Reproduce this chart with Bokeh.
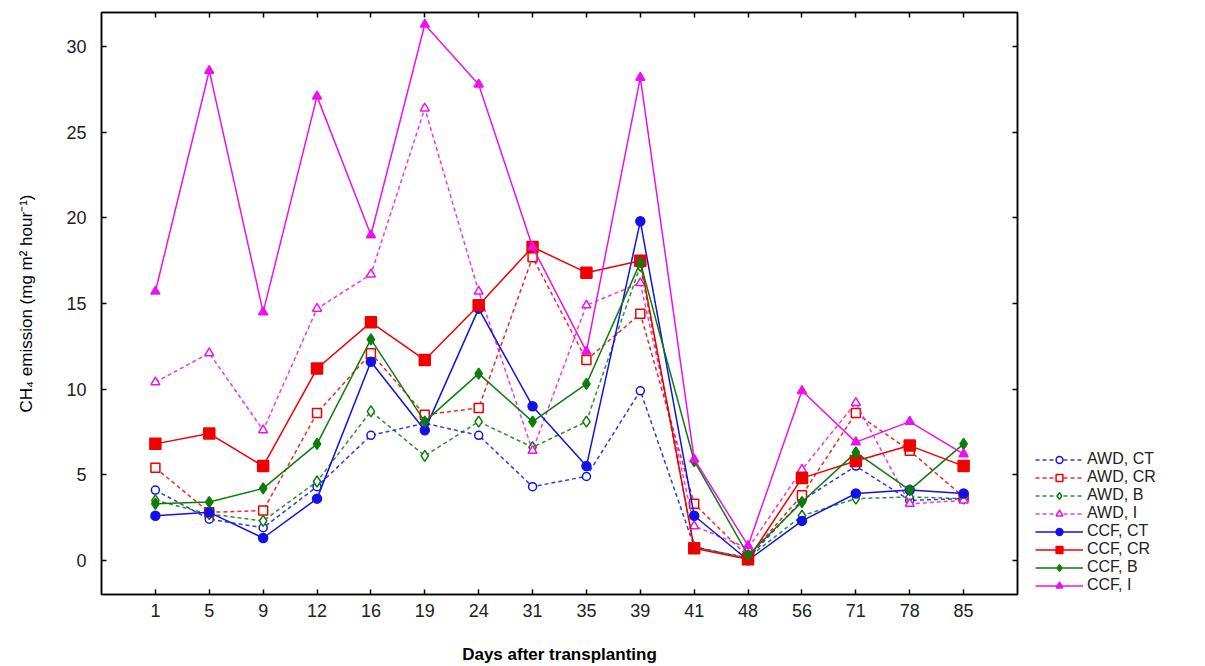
from bokeh.plotting import figure
from bokeh.layouts import row
from bokeh.models import (LinearAxis, FixedTicker, Range1d, Legend, LegendItem)
from bokeh.embed import file_html
from bokeh.resources import INLINE

days = [1, 5, 9, 12, 16, 19, 24, 31, 35, 39, 41, 48, 56, 71, 78, 85]

awd_ct = [4.1, 2.4, 1.9, 4.3, 7.3, 8.0, 7.3, 4.3, 4.9, 9.9, 0.8, 0.1, 3.5, 5.5, 3.5, 3.6]
awd_cr = [5.4, 2.8, 2.9, 8.6, 12.1, 8.5, 8.9, 17.7, 11.7, 14.4, 3.3, 0.2, 3.8, 8.6, 6.4, 3.7]
awd_b = [3.5, 2.7, 2.3, 4.6, 8.7, 6.1, 8.1, 6.6, 8.1, 17.2, 0.75, 0.15, 2.6, 3.6, 3.7, 3.6]
awd_i = [10.4, 12.1, 7.6, 14.7, 16.7, 26.4, 15.7, 6.4, 14.9, 16.2, 2.0, 0.7, 5.3, 9.2, 3.3, 3.5]
ccf_ct = [2.6, 2.8, 1.3, 3.6, 11.6, 7.6, 14.7, 9.0, 5.5, 19.8, 2.6, 0.0, 2.3, 3.9, 4.1, 3.9]
ccf_cr = [6.8, 7.4, 5.5, 11.2, 13.9, 11.7, 14.9, 18.3, 16.8, 17.5, 0.7, 0.06, 4.8, 5.8, 6.7, 5.5]
ccf_b = [3.3, 3.4, 4.2, 6.8, 12.9, 8.1, 10.9, 8.1, 10.3, 17.4, 5.8, 0.3, 3.4, 6.3, 4.1, 6.8]
ccf_i = [15.7, 28.6, 14.5, 27.1, 19.0, 31.3, 27.8, 18.3, 12.2, 28.2, 5.9, 0.85, 9.9, 6.9, 8.1, 6.2]

y_ticks = [0, 5, 10, 15, 20, 25, 30]

BLUE = "#1212e6"
RED = "#f00000"
GREEN = "#0b7d0b"
MAG = "#ec12ec"

x_idx = list(range(1, len(days) + 1))
FONT = "Liberation Sans"

p = figure(width=1030, height=666, output_backend="svg", toolbar_location=None,
           x_range=Range1d(0, len(days) + 1), y_range=Range1d(-2, 32),
           x_axis_location=None, y_axis_location=None,
           min_border_left=101, min_border_top=12, min_border_right=13, min_border_bottom=68)
p.xgrid.visible = False
p.ygrid.visible = False
p.outline_line_color = "black"
p.outline_line_width = 1.5
p.background_fill_color = "white"
p.border_fill_color = "white"


def make_axis(cls, ticker, overrides, label=None):
    ax = cls(ticker=ticker)
    ax.major_label_overrides = overrides
    ax.major_tick_in = 5
    ax.major_tick_out = 0
    ax.minor_tick_in = 0
    ax.minor_tick_out = 0
    ax.axis_line_color = "black"
    ax.axis_line_width = 1.5
    ax.major_tick_line_color = "black"
    ax.major_tick_line_width = 1.5
    ax.major_label_text_font = FONT
    ax.major_label_text_font_size = "18px"
    ax.major_label_text_color = "#222222"
    if label is not None:
        ax.axis_label = label
    return ax


xt = FixedTicker(ticks=x_idx)
yt = FixedTicker(ticks=y_ticks)

xb = make_axis(LinearAxis, xt, {i: str(d) for i, d in zip(x_idx, days)}, "Days after transplanting")
xb.major_label_standoff = 9
xb.axis_label_text_font = FONT
xb.axis_label_text_font_style = "bold"
xb.axis_label_text_font_size = "17px"
xb.axis_label_text_color = "black"
xb.axis_label_standoff = 25
p.add_layout(xb, "below")

yl = make_axis(LinearAxis, yt, {v: str(v) for v in y_ticks}, "CH\u2084 emission (mg m\u00b2 hour\u207b\u00b9)")
yl.major_label_standoff = 15
yl.axis_label_text_font = FONT
yl.axis_label_text_font_style = "normal"
yl.axis_label_text_font_size = "17px"
yl.axis_label_text_color = "black"
yl.axis_label_standoff = 27
p.add_layout(yl, "left")

xa = make_axis(LinearAxis, xt, {i: "" for i in x_idx})
xa.major_label_standoff = 0
p.add_layout(xa, "above")

yr = make_axis(LinearAxis, yt, {v: "" for v in y_ticks})
yr.major_label_standoff = 0
p.add_layout(yr, "right")

series = [
    ("AWD, CT", awd_ct, BLUE, "circle", True, 8),
    ("AWD, CR", awd_cr, RED, "square", True, 9),
    ("AWD, B", awd_b, GREEN, "diamond", True, 11),
    ("AWD, I", awd_i, MAG, "triangle", True, 9),
    ("CCF, CT", ccf_ct, BLUE, "circle", False, 9),
    ("CCF, CR", ccf_cr, RED, "square", False, 11),
    ("CCF, B", ccf_b, GREEN, "diamond", False, 11),
    ("CCF, I", ccf_i, MAG, "triangle", False, 9),
]

# Legend panel: a separate, axis-free figure; its renderers hold the same series
# but its ranges keep them out of view, so only the legend shows.
lp = figure(width=159, height=666, output_backend="svg", toolbar_location=None,
            x_range=Range1d(-20, -19), y_range=Range1d(-20, -19),
            x_axis_location=None, y_axis_location=None,
            min_border_left=0, min_border_right=0, min_border_top=0, min_border_bottom=0)
lp.xgrid.visible = False
lp.ygrid.visible = False
lp.outline_line_color = None
lp.background_fill_color = "white"
lp.border_fill_color = "white"

items = []
for name, vals, col, mk, dashed, size in series:
    style = dict(line_color=col, line_width=1.5,
                 line_dash="4 3" if dashed else "solid", line_alpha=0.85 if dashed else 1.0)
    mstyle = dict(marker=mk, size=size, line_color=col, line_width=1.5,
                  fill_color="white" if dashed else col)
    p.line(x_idx, vals, **style)
    p.scatter(x_idx, vals, **mstyle)
    lg_line = lp.line(x_idx, vals, **style)
    lg_mark = lp.scatter(x_idx, vals, **mstyle)
    items.append(LegendItem(label=name, renderers=[lg_line, lg_mark]))

legend = Legend(items=items, location=(5, 0))
legend.border_line_color = None
legend.background_fill_alpha = 0
legend.padding = 0
legend.margin = 0
legend.spacing = 0
legend.glyph_width = 48
legend.glyph_height = 17
legend.label_height = 17
legend.label_standoff = 4
legend.label_text_font = FONT
legend.label_text_font_size = "16px"
legend.label_text_color = "#222222"
lp.add_layout(legend, "center")

layout = row(p, lp)
open("out.html", "w").write(file_html(layout, INLINE))
